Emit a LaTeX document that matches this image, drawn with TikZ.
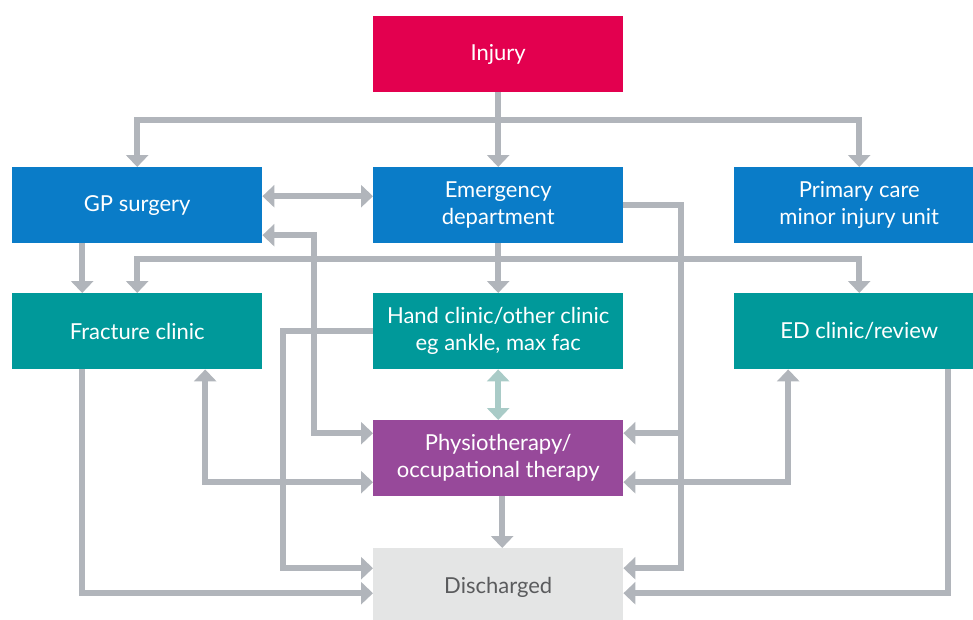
\documentclass[tikz,border=0pt]{standalone}
\usepackage{fontspec}
\setmainfont{Lato}
\usepackage{tikz}
\usetikzlibrary{arrows.meta}
\usetikzlibrary{positioning}

\definecolor{injuryred}{HTML}{E3004F}
\definecolor{careblue}{HTML}{0A7CC8}
\definecolor{clinicteal}{HTML}{00999A}
\definecolor{therapypurple}{HTML}{97499A}
\definecolor{dischgray}{HTML}{E4E5E5}
\definecolor{dischtext}{HTML}{5A5B5D}
\definecolor{linkgray}{HTML}{B1B5BB}
\definecolor{linkteal}{HTML}{A9CBC7}

\begin{document}
\begin{tikzpicture}[x=1pt, y=-1pt, box/.style={rectangle, minimum width=250pt, minimum height=76pt, anchor=north west, text=white, align=center, inner sep=0pt, font=\fontsize{22}{27}\selectfont}, line/.style={line width=6pt, draw=linkgray, line join=miter}, arrow/.style={line, -{Triangle[width=22pt,length=12pt]}}, dblarrow/.style={line, {Triangle[width=22pt,length=12pt]}-{Triangle[width=22pt,length=12pt]}}]
\useasboundingbox (0,0) rectangle (973,619);
\clip (0,0) rectangle (973,619);
\node [box, fill=injuryred] (injury) at (373,16) {Injury};
\node [box, fill=careblue] (gp) at (12,167) {GP surgery};
\node [box, fill=careblue] (ed) at (373,167) {Emergency\\department};
\node [box, fill=careblue] (mcare) at (734,167) {Primary care\\minor injury unit};
\node [box, fill=clinicteal] (fracture) at (12,293) {Fracture clinic};
\node [box, fill=clinicteal] (hand) at (373,293) {Hand clinic/other clinic\\eg ankle, max fac};
\node [box, fill=clinicteal] (edclinic) at (734,293) {ED clinic/review};
\node [box, fill=therapypurple] (physio) at (373,420) {Physiotherapy/\\occupational therapy};
\node [box, fill=dischgray, text=dischtext, minimum height=78pt] (discharged) at (373,548) {Discharged};
\coordinate (split1) at (498,120);
\coordinate (split2) at (498,259);
\draw [arrow] (injury) -- (ed);
\draw [arrow] (split1) -| (gp);
\draw [arrow] (split1) -| (mcare);
\draw [dblarrow] ([yshift=9pt]gp.east) -- ([yshift=9pt]ed.west);
\draw [arrow] ([xshift=-55pt]gp.south) -- ([xshift=-55pt]fracture.north);
\draw [arrow] (ed) -- (hand);
\draw [arrow] (split2) -| (fracture);
\draw [arrow] (split2) -| (edclinic);
\draw [dblarrow] ([yshift=-30pt]gp.east) -- ++(52,0) |- ([yshift=25pt]physio.west);
\draw [dblarrow] ([xshift=68pt]fracture.south) |- ([yshift=-24pt]physio.west);
\draw [arrow] (hand.west) -- ++(-90,0) |- ([yshift=19pt]discharged.west);
\draw [arrow] ([xshift=-55pt]fracture.south) |- ([yshift=-6pt]discharged.west);
\draw [dblarrow, draw=linkteal] (hand) -- (physio);
\draw [arrow] ([xshift=4pt]physio.south) -- ([xshift=4pt]discharged.north);
\draw [arrow] (ed.east) -- ++(58,0) |- ([yshift=25pt]physio.east);
\draw [arrow] (ed.east) -- ++(58,0) |- ([yshift=19pt]discharged.east);
\draw [dblarrow] ([xshift=-71pt]edclinic.south) |- ([yshift=-24pt]physio.east);
\draw [arrow] ([xshift=89pt]edclinic.south) |- ([yshift=-6pt]discharged.east);
\end{tikzpicture}
\end{document}
